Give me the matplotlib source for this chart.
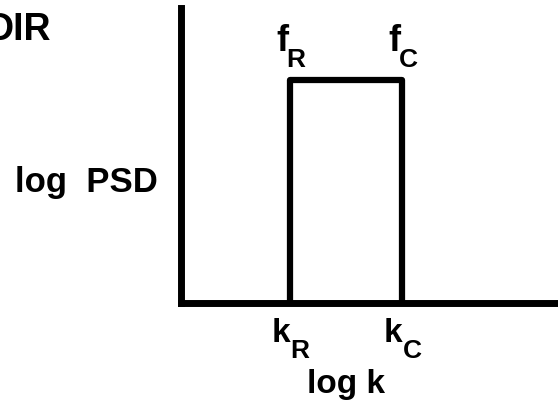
import matplotlib
matplotlib.use("Agg")
import matplotlib.pyplot as plt

# Band-limited spectrum sketch (log PSD vs log k)
k_band = [1.0, 2.0]          # k_R, k_C (log k units)
psd_level = 1.0              # flat log PSD inside the band
band_names = ["R", "C"]
x_label = "log k"
y_label = "log  PSD"
corner_text = "DIR"

plt.rcParams['font.family'] = ['Liberation Sans', 'DejaVu Sans']
plt.rcParams['font.weight'] = 'bold'

fig = plt.figure(figsize=(5.58, 4.08), dpi=100)
ax = fig.add_axes([181 / 558, (408 - 303) / 408, (558 - 181) / 558, (303 - 8) / 408])

# box shaped spectrum
xs = [k_band[0], k_band[0], k_band[1], k_band[1]]
ys = [0, psd_level, psd_level, 0]
ax.plot(xs, ys, color='black', lw=4.5, solid_joinstyle='round', clip_on=False)

ax.set_xlim(0.027, 3.39)
ax.set_ylim(0, 1.32)
for s in ['top', 'right']:
    ax.spines[s].set_visible(False)
for s in ['left', 'bottom']:
    ax.spines[s].set_linewidth(5)
ax.set_xticks([])
ax.set_yticks([])

fs = 24
sub = 19
for k, name in zip(k_band, band_names):
    # f labels above the corners
    ax.text(k - 0.125, 1.126, "f", fontsize=fs + 2, va='baseline', ha='left', clip_on=False)
    ax.text(k - 0.03, 1.058, name, fontsize=sub, va='baseline', ha='left', clip_on=False)
    # k labels below the axis
    ax.text(k - 0.165, -0.175, "k", fontsize=fs, va='baseline', ha='left', clip_on=False)
    ax.text(k + 0.005, -0.247, name, fontsize=sub, va='baseline', ha='left', clip_on=False)

ax.text(sum(k_band) / 2, -0.404, x_label, fontsize=fs, va='baseline', ha='center', clip_on=False)
fig.text(15 / 558, 1 - 192 / 408, y_label, fontsize=25, va='baseline', ha='left')

fig.text(51 / 558, 1 - 40 / 408, corner_text, fontsize=27, va='baseline', ha='right')

fig.savefig("out.png", dpi=100)
